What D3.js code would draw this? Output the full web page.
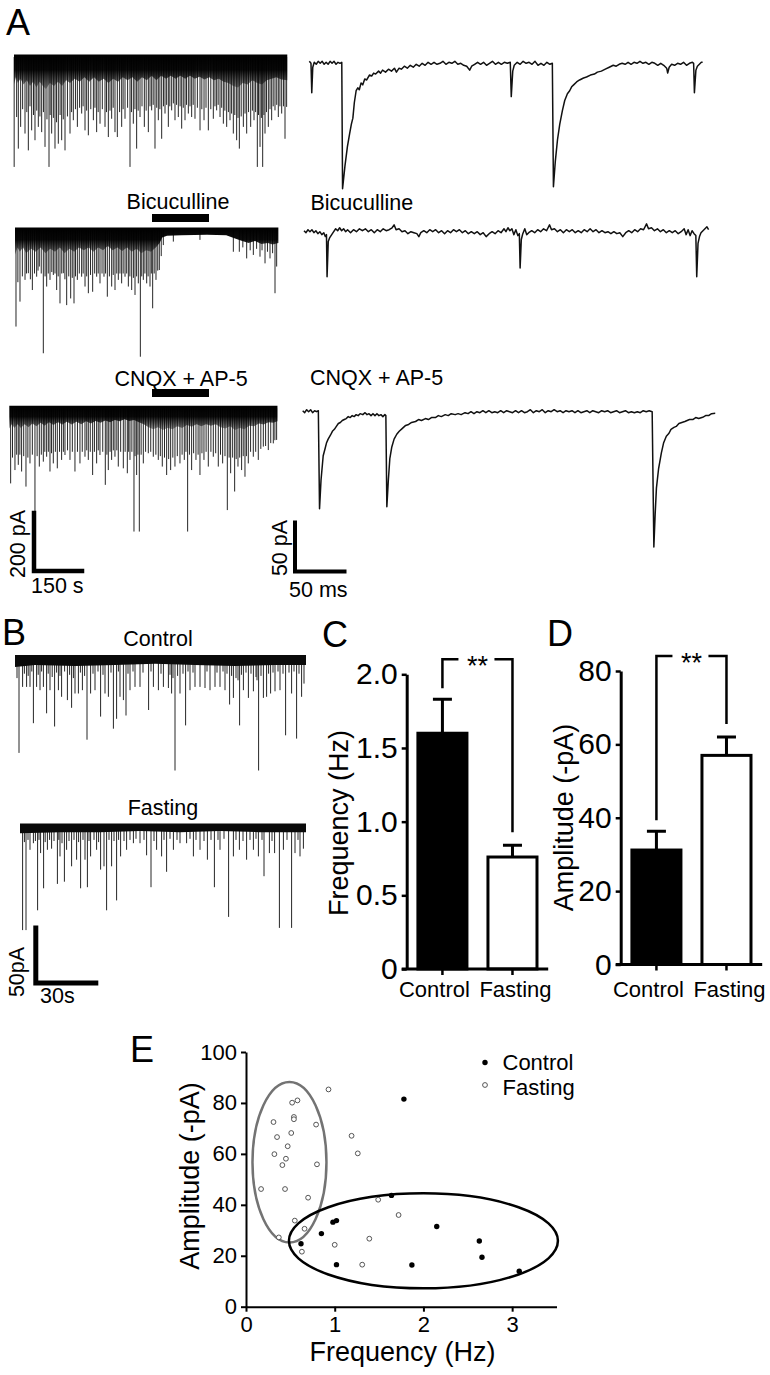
<!DOCTYPE html>
<html>
<head>
<meta charset="utf-8">
<script src="https://cdn.jsdelivr.net/npm/d3@7"></script>
<style>
  body { margin: 0; background: #fff; }
  text { font-family: "Liberation Sans", Arial, sans-serif; fill: #000; }
</style>
</head>
<body>
<svg id="fig" width="770" height="1375"></svg>
<script>
// ---- data: panel C / D bar charts
var groups = ['Control', 'Fasting']
var freqMean = [1.6, 0.76]
var freqSem = [0.23, 0.08]
var ampMean = [31.2, 57.0]
var ampSem = [5.1, 5.0]
var freqTicks = [0, 0.5, 1.0, 1.5, 2.0]
var ampTicks = [0, 20, 40, 60, 80]

// ---- data: panel E scatter (frequency Hz, amplitude -pA)
var controlPts = [[1.78, 81.5], [1.64, 43.7], [0.98, 33.2], [1.02, 33.8], [0.85, 28.7], [0.62, 24.7],
  [1.02, 16.5], [1.87, 16.4], [2.15, 31.5], [2.63, 25.8], [2.66, 19.4], [3.08, 13.9]]
var fastingPts = [[0.93, 85.3], [0.52, 80.1], [0.58, 81.0], [0.31, 72.5], [0.54, 74.5], [0.54, 73.6],
  [0.79, 71.5], [0.35, 66.6], [0.51, 68.2], [1.19, 67.1], [0.47, 63.0], [0.32, 59.9], [0.45, 58.1],
  [0.41, 55.6], [0.80, 55.9], [1.26, 60.2], [0.17, 46.2], [0.44, 46.2], [0.70, 42.8], [1.49, 42.0],
  [1.72, 36.0], [0.55, 33.8], [0.66, 30.6], [0.37, 27.2], [1.00, 24.3], [1.39, 26.7], [0.63, 21.6], [1.31, 16.5]]
var freqAxisTicks = [0, 1, 2, 3]
var ampAxisTicks = [0, 20, 40, 60, 80, 100]
// cluster ellipses [cx Hz, cy pA, rx Hz, ry pA]
var fastingCluster = [0.49, 56.7, 0.417, 31.5]
var controlCluster = [2.0, 25.85, 1.516, 18.65]

// ---- data: panel A long recordings, spikes [time s, amplitude pA], dense band [time s, depth pA]
var aCtrlSpikes = [[0.5, 379], [8.3, 207], [13.5, 316], [20.8, 241], [27, 180], [34.4, 264], [40, 190], [44.8, 322], [50, 170],
  [55.2, 253], [61, 200], [65.6, 287], [71, 185], [76, 241], [81, 205], [86.5, 259], [92, 190], [96.9, 310], [103, 215],
  [109.4, 379], [113, 200], [117.7, 264], [123, 210], [128.1, 316], [133, 225], [138.5, 299], [144, 200], [149, 287],
  [154, 215], [159.4, 322], [167, 205], [175, 264], [180, 190], [185.4, 218], [192, 180], [198, 241], [205, 175],
  [211.5, 195], [216, 170], [221.9, 253], [227, 185], [232.3, 270], [240, 180], [248, 218], [253, 175], [258.3, 259],
  [263, 190], [268.8, 230], [276, 180], [284.4, 241], [289, 190], [294.8, 276], [300, 185], [305.2, 213], [310, 175],
  [315.6, 259], [322.9, 276], [330, 190], [336.5, 241], [341, 180], [346.9, 213], [355, 175], [362.5, 379], [367, 190],
  [372.9, 230], [378, 180], [383.3, 316], [388, 185], [393.8, 207], [400, 170], [407.3, 241], [413, 185], [419.8, 259],
  [425, 170], [430.2, 184], [435, 165], [440.6, 316], [446, 175], [451, 218], [456, 180], [461.5, 282], [467, 170],
  [471.9, 195], [477, 165], [482.3, 241], [487, 170], [492.7, 184], [498, 160], [503.1, 218], [508, 165], [513.5, 207],
  [519, 170], [524, 247], [529, 175], [534.4, 218], [539, 165], [544.8, 195], [550, 170], [555.2, 207], [560, 165],
  [565.6, 213], [573, 175], [581.3, 253], [587, 180], [593.8, 218], [600, 175], [607.3, 253], [615, 180], [622.9, 213],
  [628, 170], [633.3, 184], [638, 165], [643.8, 207], [649, 175], [654.2, 230], [659, 185], [664.6, 241], [670, 190],
  [675, 218], [680, 195], [685.4, 264], [690, 200], [695.8, 287], [700, 210], [704.2, 316], [710, 205], [716.7, 241],
  [722, 195], [727.1, 264], [733, 190], [739.6, 241], [745, 185], [750, 218], [755, 190], [760.4, 379], [764, 200],
  [768.8, 310], [773, 210], [777.1, 379], [781, 200], [784.4, 264], [789, 190], [794.8, 241], [800, 180], [805.2, 218],
  [810, 170], [815.6, 184], [821, 165], [826, 207], [831, 170], [836.5, 195], [842, 170], [846.9, 282], [852, 172]]
var aCtrlBand = [[0, 95], [6, 70], [12, 90], [20, 75], [30, 95], [40, 80], [50, 100], [60, 85], [70, 105], [80, 85],
  [90, 100], [100, 110], [112, 90], [125, 100], [138, 85], [150, 100], [163, 80], [175, 90], [190, 75], [205, 85],
  [220, 70], [235, 85], [250, 70], [265, 85], [280, 75], [295, 90], [310, 75], [325, 85], [340, 70], [355, 80], [370, 70],
  [385, 85], [400, 70], [415, 80], [430, 65], [445, 80], [460, 65], [475, 75], [490, 65], [505, 75], [520, 65], [535, 75],
  [550, 65], [565, 75], [580, 68], [595, 78], [610, 70], [625, 80], [640, 75], [655, 85], [670, 90], [685, 100], [700, 105],
  [715, 90], [730, 95], [745, 80], [760, 90], [775, 95], [790, 80], [805, 75], [820, 70], [835, 78], [854, 80]]

var aBicSpikes = [[3.1, 333], [9, 180], [15.6, 247], [23, 160], [31.3, 172], [36, 150], [41.7, 149], [48, 170], [54.2, 207],
  [61, 150], [67.7, 161], [72, 140], [76, 126], [82, 150], [88.5, 425], [94, 160], [99, 195], [104, 150], [109.4, 172],
  [115, 145], [119.8, 155], [125, 150], [130.2, 207], [135, 160], [140.6, 253], [146, 150], [151, 149], [156, 170],
  [161.5, 259], [168, 160], [174, 236], [179, 165], [184.4, 253], [189, 160], [194.8, 172], [201, 150], [208.3, 161],
  [213, 150], [218.8, 195], [224, 160], [229.2, 218], [236, 155], [242.7, 213], [249, 150], [255.2, 161], [260, 150],
  [265.6, 184], [272, 150], [278.1, 161], [283, 150], [288.5, 230], [295, 160], [302.1, 195], [307, 155], [312.5, 207],
  [318, 150], [322.9, 172], [328, 150], [333.3, 184], [338, 150], [343.8, 161], [349, 150], [354.2, 195], [359, 160],
  [364.6, 207], [370, 165], [375, 224], [380, 160], [385.4, 184], [391.7, 437], [396, 160], [401, 172], [406, 150],
  [411.5, 184], [416, 160], [421.9, 195], [426, 150], [430.2, 270], [435, 150], [440.6, 172], [446, 140], [451, 138],
  [457, 90], [463.5, 52], [494.8, 40], [578, 34], [682.3, 75], [701, 75], [712, 60], [724, 98], [735, 70], [744.8, 86],
  [755, 65], [765.6, 92], [772, 70], [781.3, 115], [789, 75], [796.9, 98], [805, 80], [812.5, 218], [817.7, 126]]
var aBicBand = [[0, 85], [8, 60], [15, 75], [25, 60], [35, 80], [50, 65], [65, 75], [80, 60], [95, 80], [110, 65],
  [125, 75], [140, 60], [155, 80], [170, 65], [185, 75], [200, 60], [215, 70], [230, 60], [245, 75], [260, 60], [275, 70],
  [290, 55], [305, 70], [320, 60], [335, 72], [350, 60], [365, 75], [380, 65], [395, 80], [410, 70], [425, 75], [440, 60],
  [452, 45], [460, 26], [475, 20], [520, 18], [600, 16], [660, 18], [690, 30], [710, 38], [730, 45], [750, 38], [770, 48],
  [790, 45], [805, 50], [823, 45]]

var aGluSpikes = [[4.2, 259], [10, 170], [17.7, 213], [23, 160], [28.1, 195], [33, 160], [38.5, 218], [45, 165], [52.1, 270],
  [58, 170], [64.6, 190], [72, 160], [80.2, 368], [87, 165], [93.8, 201], [100, 160], [106.3, 184], [111, 150],
  [116.7, 167], [122, 150], [127.1, 218], [132, 155], [137.5, 190], [144, 150], [150, 207], [157, 150], [163.5, 178],
  [169, 150], [174, 161], [182, 145], [189.6, 178], [197, 150], [205.2, 218], [213, 150], [220.8, 190], [228, 150],
  [236.5, 167], [242, 145], [246.9, 178], [253, 150], [260.4, 230], [266, 150], [272.9, 190], [278, 145], [283.3, 161],
  [292, 150], [300, 264], [305, 160], [309.4, 213], [315, 150], [319.8, 178], [325, 145], [330.2, 167], [336, 145],
  [340.6, 201], [348, 150], [356.3, 207], [362, 150], [368.8, 224], [373, 150], [377.1, 178], [383, 150], [389.6, 425],
  [393, 165], [397.9, 230], [402, 160], [406.3, 425], [412, 160], [418.8, 190], [426, 150], [434.4, 155], [442, 150],
  [450, 167], [458, 160], [465.6, 178], [472, 165], [478.1, 201], [485, 170], [491.7, 230], [498, 175], [504.2, 213],
  [511, 170], [517.7, 201], [525, 165], [533.3, 190], [540, 160], [546.9, 178], [552, 150], [557.3, 425], [563, 160],
  [569.8, 213], [576, 155], [583.3, 178], [590, 160], [595.8, 230], [602, 155], [608.3, 178], [615, 150], [621.9, 201],
  [630, 150], [637.5, 167], [645, 155], [653.1, 201], [660, 160], [666.7, 190], [674, 165], [681.3, 351], [687, 170],
  [691.7, 224], [698, 170], [704.2, 287], [709, 175], [714.6, 201], [720, 170], [726, 213], [731, 165], [736.5, 236],
  [741, 165], [746.9, 190], [754, 150], [762.5, 167], [770, 150], [778.1, 178], [786, 140], [793.8, 132], [801, 130],
  [809.4, 144], [817, 120], [825, 121], [830, 110], [835.4, 109]]
var aGluBand = [[0, 70], [8, 55], [16, 68], [26, 55], [36, 68], [48, 55], [60, 65], [72, 52], [85, 62], [98, 50], [110, 60],
  [124, 48], [138, 58], [152, 48], [166, 56], [180, 46], [195, 56], [210, 46], [225, 55], [240, 45], [255, 52], [270, 44],
  [285, 50], [300, 42], [315, 48], [330, 40], [345, 45], [360, 38], [375, 44], [390, 40], [405, 48], [420, 55], [435, 65],
  [450, 72], [465, 65], [480, 75], [495, 68], [510, 72], [525, 62], [540, 68], [555, 58], [570, 64], [585, 55], [600, 62],
  [615, 55], [630, 60], [645, 55], [660, 65], [675, 70], [690, 62], [705, 75], [720, 68], [735, 72], [750, 60], [765, 62],
  [780, 52], [795, 56], [810, 48], [825, 50], [838, 45]]

// ---- data: panel A fast sweeps [time ms, current pA]
var sweepCtrl = [[0, 2], [1.7, 0], [2.5, -30], [3.5, -4], [5, 1], [7, -1], [9, 2], [11, 0], [13, 2], [15, -1], [17, 1], [19, -1],
  [21, 2], [23, 0], [25, 2], [27, -1], [29, 1], [31, 0], [32.8, 1], [33.6, -128], [36, -105], [38.5, -85], [40.7, -72],
  [42.5, -62], [44, -56], [45.5, -40], [47.3, -28], [49, -25], [50.5, -27], [52.3, -20], [54, -22], [56, -16], [58, -17],
  [60.7, -12], [63, -13], [65, -10], [67, -11], [70, -8], [72, -10], [74, -7], [77, -9], [80, -6], [83, -8], [86, -5],
  [88, -9], [90.7, -5], [93, -6], [96, -3], [99, -5], [102, -2], [105, -4], [108, -1], [111, -3], [114, 0], [117, -2],
  [120, 1], [123, -1], [126, 1], [129, -1], [132, 0], [135, 2], [138, -1], [141, 1], [144, 0], [147, 2], [150, -1],
  [153, 0], [156, -2], [159, -3], [162, -7], [164, -3], [167, -1], [170, 1], [173, -1], [176, 1], [179, -2], [182, 0],
  [185, 2], [188, -1], [191, 1], [194, -1], [197, 1], [200, 0], [203, 1], [204, -34], [205.5, -8], [207, -2], [210, 1],
  [213, -1], [216, 2], [219, 0], [222, 1], [225, -1], [228, 2], [231, -2], [234, 0], [237, -2], [240, 1], [243, -1],
  [245.5, 0], [246.6, -126], [248.5, -100], [250.7, -78], [253, -62], [255.7, -48], [258, -38], [260.7, -31], [263, -28],
  [265, -24], [267, -22], [270, -19], [273, -17], [277, -15], [280, -14], [284, -12], [288, -11], [291, -9], [295, -8],
  [299, -6], [303, -4], [307, -2], [310, -3], [313, -1], [316, 0], [319, -1], [322, 1], [325, -1], [328, 1], [331, 0],
  [334, 2], [337, 0], [340, 1], [343, -1], [346, 1], [349, 0], [352, -2], [355, 0], [358, -2], [361, -5], [362, -10],
  [363.5, -4], [366, -1], [369, -2], [372, 0], [375, -1], [378, 1], [381, -2], [384, 0], [387, 1], [388.2, 0], [389, -30],
  [390.5, -7], [392, -3], [394, -1], [396, 1], [397.3, 1]]
var sweepBic = [[0, 1], [2, -1], [4, 2], [6, 0], [8, 2], [10, -1], [12, 1], [14, -2], [16, 0], [18, -3], [20, -1], [21.5, -5],
  [22.7, -3], [23.3, -46], [24.5, -10], [26, -6], [28, -3], [30, 0], [32, 3], [34, 1], [36, 4], [38, 1], [40, 3], [42, 0],
  [44, 2], [47, -1], [50, 2], [53, 0], [56, 3], [59, 1], [62, 3], [65, 0], [68, 2], [71, -1], [74, 2], [77, 0], [80, 3],
  [83, 1], [86, 2], [89, 4], [91, 7], [93, 2], [96, 3], [99, 0], [102, 1], [105, -2], [108, 0], [111, -1], [114, -2],
  [116, -5], [118, -1], [121, 1], [124, -1], [127, 2], [130, 0], [133, 2], [136, -1], [139, 1], [142, -2], [145, 1],
  [148, -1], [151, 2], [154, 0], [157, 2], [160, -1], [163, 1], [166, -2], [169, 0], [172, -2], [175, 0], [178, -3],
  [181, -1], [184, -5], [187, -2], [190, 0], [193, -2], [196, 1], [199, -1], [202, 3], [204, 0], [206, 4], [208, 1],
  [210, 3], [212, -3], [214, 2], [216, -4], [217.5, -2], [218.3, -37], [219.5, -8], [221, -2], [223, 3], [225, -3],
  [227, -1], [230, 1], [233, -1], [236, 2], [239, 0], [242, 3], [245, 1], [248, 7], [250, 2], [253, 3], [256, 0], [259, 2],
  [262, -1], [265, 2], [268, 0], [271, 2], [274, -1], [277, 1], [280, -1], [283, 2], [286, 0], [289, 3], [292, 0], [295, 2],
  [298, -1], [301, 1], [304, -1], [307, 0], [310, -2], [313, 0], [316, -2], [319, -1], [322, -5], [325, -1], [328, 1],
  [331, -1], [334, 2], [337, 0], [340, 3], [343, 2], [346, 8], [348, 3], [351, 4], [354, 1], [357, 3], [360, 0], [363, 2],
  [366, -1], [369, 1], [372, -1], [375, 1], [378, -2], [381, 0], [384, 3], [386, -3], [388, 2], [390, -4], [392, 1],
  [394, -2], [395.8, -4], [396.7, -46], [398, -12], [399.5, -5], [401, -1], [403, 1], [405, 3], [407, 5], [408.7, 2]]
var sweepGlu = [[0, 1], [2, -1], [4, 2], [6, 0], [8, 2], [10, -1], [12, 1], [14, 0], [15.8, 1], [17, -99], [18.5, -70],
  [20.7, -45], [22.5, -38], [24, -32], [25.7, -28], [28, -24], [30, -20], [32, -18], [34, -15], [36, -12], [38, -11],
  [40, -9], [42, -8], [44, -7], [46, -5], [48, -6], [50, -4], [52, -5], [54, -3], [56, -4], [58, -2], [60.7, -3], [63, -1],
  [65, -3], [67, -2], [69, -4], [71, -2], [73, -4], [75, -2], [77, -4], [79, -3], [81, -5], [83, -3], [84, -4], [85, -97],
  [86.5, -70], [88, -48], [90, -36], [92.3, -28], [95, -23], [97.5, -20], [100.7, -17], [104, -14], [107, -13], [110, -11],
  [114, -10], [117, -8], [120, -9], [124, -7], [127, -8], [130, -6], [134, -6], [137, -4], [140, -5], [144, -3], [147, -4],
  [150, -2], [154, -3], [157, -2], [160, -3], [164, -1], [167, -2], [170, 0], [173, -2], [176, 0], [179, -1], [182, 1],
  [185, -1], [188, 1], [191, -1], [194, 0], [197, -1], [200, 1], [203, -1], [206, 1], [209, 0], [212, -1], [215, 1],
  [218, -1], [221, 1], [224, -1], [227, 0], [230, 2], [233, -1], [236, 1], [239, 0], [242, 2], [245, -1], [248, 1],
  [251, 0], [254, 2], [257, 0], [260, 1], [263, -1], [266, 1], [269, 0], [272, 1], [275, -1], [278, 1], [281, -1],
  [284, 0], [287, 1], [290, -1], [293, 1], [296, 0], [299, -1], [302, 1], [305, 0], [308, 1], [311, -1], [314, 0],
  [317, 1], [320, -1], [323, 0], [326, 1], [329, -1], [332, 0], [335, -1], [338, 0], [341, -1], [344, 1], [347, 0],
  [350, 1], [353, 0], [354.7, -138], [356, -105], [357.3, -78], [359.5, -58], [362.3, -42], [364.5, -32], [367.3, -25],
  [370, -22], [372, -18], [375, -16], [377.3, -15], [380, -12], [383, -11], [386, -10], [390.7, -8], [394, -8], [397, -6],
  [400, -7], [404, -5.7], [407, -4], [410, -4], [413, -2], [416.7, -1.7]]

// ---- data: panel B recordings [time s, amplitude pA]
var bCtrlSpikes = [[2.0, 86], [3.8, 26], [5.8, 26], [7.5, 26], [9.2, 59], [10.8, 26], [12.5, 29], [14.2, 26], [15.8, 50],
  [17.5, 29], [19.8, 62], [21.7, 29], [23.3, 35], [26.2, 38], [28.3, 45], [30, 32], [31.7, 32], [33.7, 29], [36, 74],
  [37.8, 32], [40, 29], [42.8, 53], [45, 32], [46.7, 35], [49.2, 64], [50.8, 55], [52.5, 35], [54.2, 38], [55.5, 52],
  [57.5, 29], [60, 26], [62.5, 26], [66.8, 47], [69.2, 26], [71.7, 29], [74.2, 26], [76.7, 27], [78.3, 32], [80, 102],
  [82.5, 32], [85.3, 61], [87.5, 29], [90, 26], [92.5, 26], [95, 27], [97.5, 29], [100, 26], [102.5, 26], [105, 29],
  [107.3, 42], [109.2, 36], [112.3, 61], [114.2, 29], [116.7, 36], [119.2, 30], [121.8, 102], [124.2, 36], [125.8, 35],
  [127.8, 32], [130, 30], [132.5, 29], [135.3, 70], [138.3, 32], [140.8, 73], [143.3, 35], [144.5, 23],
  [1, 18], [4.7, 14], [6.6, 16], [8.4, 12], [11.6, 15], [13.3, 12], [16.6, 14], [18.6, 17], [20.8, 13], [22.5, 16],
  [24.8, 12], [27.3, 15], [29.2, 18], [32.7, 13], [34.8, 16], [39, 14], [41.5, 12], [44, 15], [48, 13], [51.7, 12],
  [56.5, 14], [59, 12], [64, 13], [68, 12], [73, 14], [77.5, 15], [79, 18], [81.3, 16], [84, 14], [86.5, 12], [89, 13],
  [96, 12], [101, 13], [104, 12], [106, 14], [108.3, 16], [110.5, 18], [111.5, 20], [113.2, 15], [115.5, 13],
  [118, 14], [120.5, 17], [121, 20], [123, 16], [126.8, 14], [129, 13], [131.5, 12], [134, 14], [137, 13], [139.5, 12],
  [142, 14]]
var bCtrlBand = [[0, 8], [10, 6], [30, 7], [50, 6], [70, 5], [90, 6], [110, 7], [130, 6], [145.5, 6]]
var bFastSpikes = [[1.3, 94], [3.0, 94], [5, 21], [6.7, 15], [8.8, 76], [10.3, 24], [11.8, 56], [13.7, 21], [15.8, 20],
  [18.7, 52], [20, 27], [22.2, 50], [23.3, 21], [25.8, 36], [28.3, 30], [30.3, 56], [32.5, 30], [33.7, 55], [35.3, 27],
  [38.3, 21], [40.3, 39], [42, 36], [43.3, 76], [45.8, 36], [48.3, 67], [50.3, 27], [53.3, 21], [56.7, 15], [60, 15],
  [63.3, 26], [65.5, 55], [68.3, 21], [70.8, 27], [73.3, 41], [76.7, 21], [80, 15], [83.3, 15], [86.7, 27], [90, 21],
  [93.7, 30], [97.2, 55], [100, 21], [104.3, 82], [106.7, 27], [109.7, 21], [113.3, 30], [116.7, 21], [119.2, 27],
  [122, 45], [124.7, 24], [127.3, 24], [129.7, 92], [131.7, 21], [135.8, 92], [137.5, 24], [140, 27], [141.7, 20],
  [2.2, 14], [4, 12], [7.7, 13], [9.5, 12], [12.6, 14], [14.8, 12], [17, 13], [19.4, 12], [21, 15], [24.5, 13],
  [27, 12], [29.3, 14], [31.5, 12], [34.5, 13], [37, 12], [39.3, 14], [44.5, 12], [47, 13], [49.3, 12], [52, 13],
  [55, 12], [58, 11], [62, 12], [67, 13], [72, 12], [75, 11], [78.5, 12], [85, 11], [88, 12], [92, 13], [95.5, 12],
  [99, 12], [102, 11], [108, 12], [111.5, 13], [115, 12], [118, 11], [121, 12], [126, 13], [133.5, 12], [139, 12]]
var bFastBand = [[0, 6], [20, 5], [40, 5], [60, 4], [80, 5], [100, 4], [120, 5], [143, 5]]

var svg = d3.select('#fig')

// fade for the compressed recordings: dense at the baseline, sparse further down
var grad = svg.append('defs').append('linearGradient').attr('id', 'dense')
  .attr('x1', 0).attr('x2', 0).attr('y1', 0).attr('y2', 1)
grad.append('stop').attr('offset', '0%').attr('stop-color', '#000').attr('stop-opacity', 1)
grad.append('stop').attr('offset', '45%').attr('stop-color', '#000').attr('stop-opacity', 0.95)
grad.append('stop').attr('offset', '100%').attr('stop-color', '#111').attr('stop-opacity', 0.35)

function txt(s, x, y, size, anchor) {
  return svg.append('text').attr('x', x).attr('y', y).attr('font-size', size)
    .attr('text-anchor', anchor || 'start').text(s)
}
function vtxt(s, x, y, size) {
  return svg.append('text').attr('transform', 'translate(' + x + ',' + y + ') rotate(-90)')
    .attr('font-size', size).attr('text-anchor', 'middle').text(s)
}

// compressed recording: dense band plus individual events
function longTrace(spikes, band, o) {
  var x = d3.scaleLinear().domain([0, o.len]).range([o.x0, o.x0 + o.len * o.pxS])
  var y = d3.scaleLinear().domain([0, 100]).range([o.y0, o.y0 + 100 * o.pxA])
  var g = svg.append('g')
  g.selectAll('line').data(spikes).join('line')
    .attr('x1', d => x(d[0])).attr('x2', d => x(d[0]))
    .attr('y1', o.y0).attr('y2', d => y(d[1]))
    .attr('stroke', '#262626').attr('stroke-width', o.sw)
  g.append('path').datum(band)
    .attr('d', d3.area().x(d => x(d[0])).y0(o.y0 - o.top).y1(d => y(d[1])))
    .attr('fill', o.fill)
  return {x: x, y: y}
}

// fast sweep
function sweep(pts, x0, y0) {
  var x = d3.scaleLinear().domain([0, 100]).range([x0, x0 + 99])
  var y = d3.scaleLinear().domain([0, -100]).range([y0, y0 + 98])
  svg.append('path').datum(pts)
    .attr('d', d3.line().x(d => x(d[0])).y(d => y(d[1])))
    .attr('fill', 'none').attr('stroke', '#111').attr('stroke-width', 1.5)
    .attr('stroke-linejoin', 'round')
  return {x: x, y: y}
}

function scaleBar(cx, cy, w, h, th) {
  svg.append('path')
    .attr('d', 'M' + cx + ',' + (cy - h) + 'V' + cy + 'H' + (cx + w))
    .attr('fill', 'none').attr('stroke', '#000').attr('stroke-width', th)
    .attr('stroke-linecap', 'square')
}

// ================= Panel A
txt('A', 6, 35, 36)
var sa = {pxS: 0.32, pxA: 0.29, top: 2.5, sw: 1, fill: 'url(#dense)'}
longTrace(aCtrlSpikes, aCtrlBand, Object.assign({x0: 14, y0: 57, len: 854}, sa))
longTrace(aBicSpikes, aBicBand, Object.assign({x0: 15, y0: 230, len: 823}, sa))
var glu = longTrace(aGluSpikes, aGluBand, Object.assign({x0: 9.3, y0: 408.3, len: 838}, sa))

txt('Bicuculline', 178, 209, 21.5, 'middle')
svg.append('rect').attr('x', 152).attr('y', 214).attr('width', 57).attr('height', 8)
txt('CNQX + AP-5', 181, 385.5, 21.5, 'middle')
svg.append('rect').attr('x', 152).attr('y', 389).attr('width', 57).attr('height', 8)

sweep(sweepCtrl, 309.3, 63.3)
sweep(sweepBic, 304, 231.7)
var fast = sweep(sweepGlu, 302.7, 411.7)
txt('Bicuculline', 310.5, 209.5, 21.5)
txt('CNQX + AP-5', 310, 385, 21.5)

// scale bars A
scaleBar(34, 571, glu.x(150) - glu.x(0), glu.y(200) - glu.y(0), 4.5)
vtxt('200 pA', 25, 544, 21.5)
txt('150 s', 31, 593, 21.5)
scaleBar(295, 571.5, fast.x(50) - fast.x(0), fast.y(-50) - fast.y(0), 4)
vtxt('50 pA', 287, 548, 21.5)
txt('50 ms', 289, 596.5, 21.5)

// ================= Panel B
txt('B', 2, 645, 36)
txt('Control', 158, 646, 21.5, 'middle')
txt('Fasting', 163, 815, 21.5, 'middle')
var sb = {pxS: 2, pxA: 1.1, top: 3.3, sw: 1, fill: '#0a0a0a'}
var bc = longTrace(bCtrlSpikes, bCtrlBand, Object.assign({x0: 15, y0: 658.3, len: 145.5}, sb))
longTrace(bFastSpikes, bFastBand, Object.assign({x0: 20, y0: 826.7, len: 143}, sb))
scaleBar(35.8, 983, bc.x(30) - bc.x(0), bc.y(50) - bc.y(0), 5)
vtxt('50pA', 24, 972, 21.5)
txt('30s', 40, 1003, 21.5)

// ================= Panels C and D
function barPanel(o) {
  var y = d3.scaleLinear().domain(o.domain).range([o.y0, o.yTop])
  var x = d3.scaleBand().domain(groups).range([o.ax, o.ax + 141.5]).paddingInner(0.3).paddingOuter(0.16)
  var g = svg.append('g')
  var yAxis = g.append('g').attr('transform', 'translate(' + o.ax + ',0)')
    .call(d3.axisLeft(y).tickValues(o.ticks).tickSize(5).tickPadding(4).tickSizeOuter(0).tickFormat(o.fmt))
  yAxis.attr('font-family', null).attr('font-size', null)
  yAxis.select('.domain').attr('stroke-width', 3)
  yAxis.selectAll('.tick line').attr('stroke-width', 2.5)
  yAxis.selectAll('text').attr('font-size', 30)

  g.selectAll('rect.bar').data(groups).join('rect').attr('class', 'bar')
    .attr('x', d => x(d)).attr('width', x.bandwidth())
    .attr('y', (d, i) => y(o.mean[i])).attr('height', (d, i) => y(0) - y(o.mean[i]))
    .attr('fill', (d, i) => i === 0 ? '#000' : '#fff').attr('stroke', '#000').attr('stroke-width', 3)
  // error bars
  g.selectAll('path.err').data(groups).join('path').attr('class', 'err')
    .attr('d', (d, i) => {
      var cx = x(d) + x.bandwidth() / 2, t = y(o.mean[i] + o.sem[i])
      return 'M' + cx + ',' + y(o.mean[i]) + 'V' + t + 'M' + (cx - 9.5) + ',' + t + 'H' + (cx + 9.5)
    })
    .attr('fill', 'none').attr('stroke', '#000').attr('stroke-width', 3)
  // x axis
  g.append('line').attr('x1', o.ax - 5).attr('x2', o.ax + 141.5).attr('y1', y(0)).attr('y2', y(0))
    .attr('stroke', '#000').attr('stroke-width', 3)
  g.selectAll('line.xt').data(groups).join('line').attr('class', 'xt')
    .attr('x1', d => x(d) + x.bandwidth() / 2).attr('x2', d => x(d) + x.bandwidth() / 2)
    .attr('y1', y(0)).attr('y2', y(0) + 6).attr('stroke', '#000').attr('stroke-width', 2.5)
  g.selectAll('text.xl').data(groups).join('text').attr('class', 'xl')
    .attr('x', (d, i) => x(d) + x.bandwidth() / 2 + (i === 0 ? -8 : 3)).attr('y', 996.5)
    .attr('text-anchor', 'middle').attr('font-size', 22).text(d => d)
  // significance bracket
  var c0 = x(groups[0]) + x.bandwidth() / 2, c1 = x(groups[1]) + x.bandwidth() / 2
  var top = o.yTop - 15, mid = (c0 + c1) / 2
  var l0 = y(o.mean[0] + o.sem[0]) - 11, l1 = y(o.mean[1] + o.sem[1]) - 13
  g.append('path')
    .attr('d', 'M' + c0 + ',' + l0 + 'V' + top + 'H' + (mid - 19) + 'M' + (mid + 17) + ',' + top + 'H' + c1 + 'V' + l1)
    .attr('fill', 'none').attr('stroke', '#000').attr('stroke-width', 2.5)
  g.append('text').attr('x', mid).attr('y', top + 16).attr('text-anchor', 'middle')
    .attr('font-size', 27).text('**')
  vtxt(o.title, o.tx, o.ty, 27)
}

txt('C', 322, 647, 36)
barPanel({domain: [0, 2], y0: 969, yTop: 674.3, ax: 406.7, ticks: freqTicks, mean: freqMean, sem: freqSem,
  fmt: d => d === 0 ? '0' : d.toFixed(1), title: 'Frequency (Hz)', tx: 347.5, ty: 823})
txt('D', 547, 646, 36)
barPanel({domain: [0, 80], y0: 964.5, yTop: 671, ax: 620.7, ticks: ampTicks, mean: ampMean, sem: ampSem,
  fmt: d3.format('d'), title: 'Amplitude (-pA)', tx: 572.5, ty: 817.5})

// ================= Panel E
txt('E', 130, 1062, 36)
var ex = d3.scaleLinear().domain([0, 3.5]).range([246, 556.5])
var ey = d3.scaleLinear().domain([0, 100]).range([1306.7, 1052])
var gE = svg.append('g')
var xa = gE.append('g').attr('transform', 'translate(0,' + ey(0) + ')')
  .call(d3.axisBottom(ex).tickValues(freqAxisTicks).tickSize(5).tickPadding(5).tickSizeOuter(0).tickFormat(d3.format('d')))
var ya = gE.append('g').attr('transform', 'translate(' + ex(0) + ',0)')
  .call(d3.axisLeft(ey).tickValues(ampAxisTicks).tickSize(5).tickPadding(4).tickSizeOuter(0))
;[xa, ya].forEach(a => {
  a.attr('font-family', null).attr('font-size', null)
  a.select('.domain').attr('stroke-width', 2)
  a.selectAll('.tick line').attr('stroke-width', 2)
  a.selectAll('text').attr('font-size', 22)
})

gE.append('ellipse').datum(fastingCluster)
  .attr('cx', d => ex(d[0])).attr('cy', d => ey(d[1]))
  .attr('rx', d => ex(d[2]) - ex(0)).attr('ry', d => ey(0) - ey(d[3]))
  .attr('fill', 'none').attr('stroke', '#737373').attr('stroke-width', 2.5)
gE.append('ellipse').datum(controlCluster)
  .attr('cx', d => ex(d[0])).attr('cy', d => ey(d[1]))
  .attr('rx', d => ex(d[2]) - ex(0)).attr('ry', d => ey(0) - ey(d[3]))
  .attr('fill', 'none').attr('stroke', '#000').attr('stroke-width', 2.5)

gE.selectAll('circle.f').data(fastingPts).join('circle').attr('class', 'f')
  .attr('cx', d => ex(d[0])).attr('cy', d => ey(d[1])).attr('r', 2.4)
  .attr('fill', '#fff').attr('stroke', '#444').attr('stroke-width', 0.9)
gE.selectAll('circle.c').data(controlPts).join('circle').attr('class', 'c')
  .attr('cx', d => ex(d[0])).attr('cy', d => ey(d[1])).attr('r', 2.7).attr('fill', '#000')

// legend
gE.append('circle').attr('cx', 485).attr('cy', 1062.5).attr('r', 2.7).attr('fill', '#000')
gE.append('circle').attr('cx', 485).attr('cy', 1085).attr('r', 2.4)
  .attr('fill', '#fff').attr('stroke', '#444').attr('stroke-width', 0.9)
txt('Control', 502.5, 1070, 22)
txt('Fasting', 502.5, 1094.5, 22)

vtxt('Amplitude (-pA)', 198.5, 1176, 27)
txt('Frequency (Hz)', 402.5, 1361, 27, 'middle')
</script>
</body>
</html>
